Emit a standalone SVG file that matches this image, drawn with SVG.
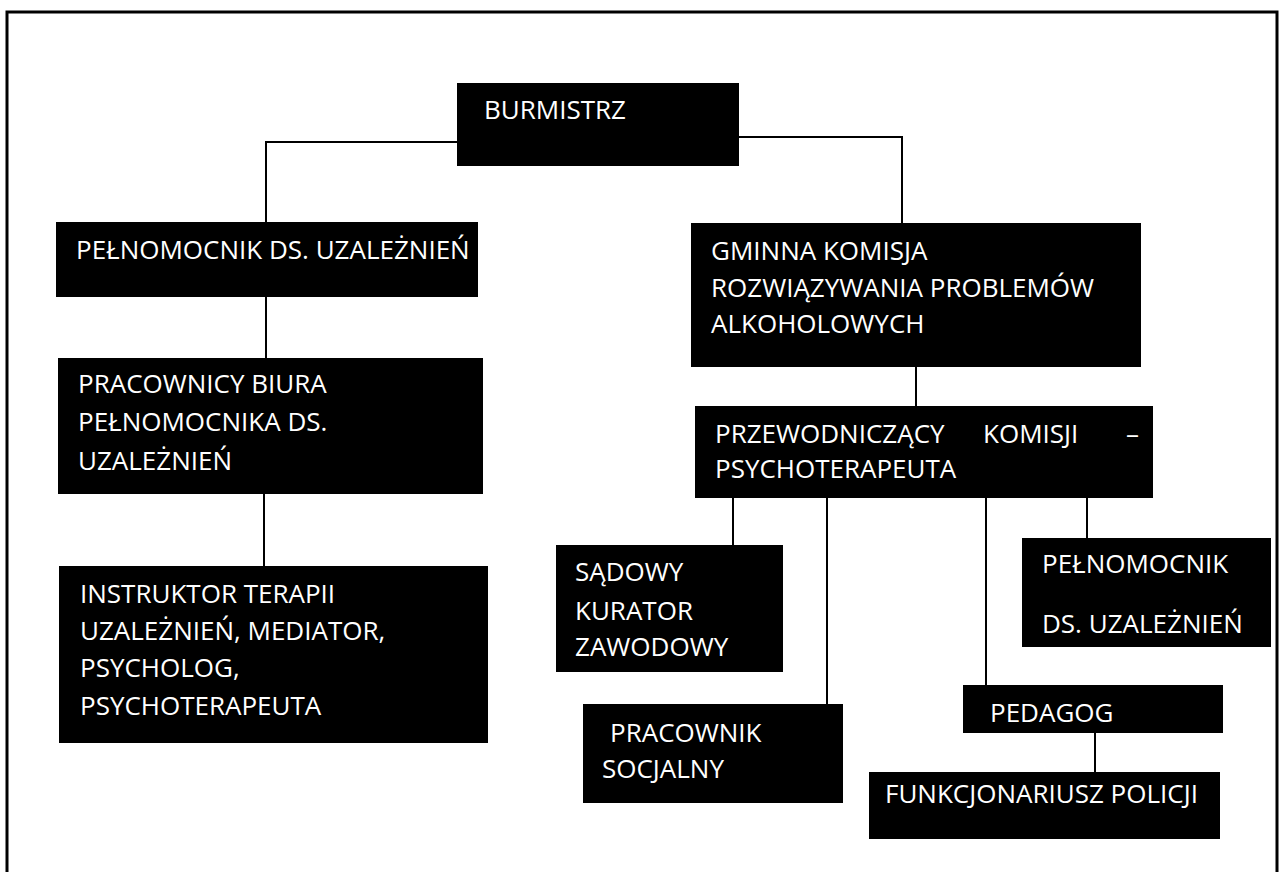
<svg xmlns="http://www.w3.org/2000/svg" width="1280" height="872" viewBox="0 0 1280 872">
<style>
.box{fill:#000}
.t{fill:#fff;font-family:"Open Sans","Liberation Sans",sans-serif;font-size:26px}
.c{stroke:#000;stroke-width:2;fill:none}
.frame{stroke:#000;stroke-width:3;fill:none}
</style>
<rect width="1280" height="872" fill="#fff"/>
<path class="frame" d="M7,880 L7,12 L1277,12 L1277,880"/>
<g id="connectors">
<path class="c" d="M457,142 H266 V222"/>
<path class="c" d="M739,137 H902 V224"/>
<path class="c" d="M266,297 V358"/>
<path class="c" d="M264,494 V566"/>
<path class="c" d="M916,367 V406"/>
<path class="c" d="M733,498 V545"/>
<path class="c" d="M827,498 V704"/>
<path class="c" d="M986,498 V685"/>
<path class="c" d="M1087,498 V538"/>
<path class="c" d="M1095,733 V772" stroke-width="3"/>
</g>
<g id="burmistrz">
<rect class="box" x="457" y="83" width="282" height="83"/>
<text class="t" x="484" y="119">BURMISTRZ</text>
</g>
<g id="pelnomocnik">
<rect class="box" x="56" y="222" width="422" height="75"/>
<text class="t" x="76" y="259">PEŁNOMOCNIK DS. UZALEŻNIEŃ</text>
</g>
<g id="pracownicy-biura">
<rect class="box" x="58" y="358" width="425" height="136"/>
<text class="t" x="78" y="393">PRACOWNICY BIURA</text>
<text class="t" x="78" y="431">PEŁNOMOCNIKA DS.</text>
<text class="t" x="78" y="470">UZALEŻNIEŃ</text>
</g>
<g id="instruktor">
<rect class="box" x="59" y="566" width="429" height="177"/>
<text class="t" x="80" y="603">INSTRUKTOR TERAPII</text>
<text class="t" x="80" y="640">UZALEŻNIEŃ, MEDIATOR,</text>
<text class="t" x="80" y="677">PSYCHOLOG,</text>
<text class="t" x="80" y="715">PSYCHOTERAPEUTA</text>
</g>
<g id="gminna-komisja">
<rect class="box" x="691" y="223" width="450" height="144"/>
<text class="t" x="711" y="260">GMINNA KOMISJA</text>
<text class="t" x="711" y="297">ROZWIĄZYWANIA PROBLEMÓW</text>
<text class="t" x="711" y="333">ALKOHOLOWYCH</text>
</g>
<g id="przewodniczacy">
<rect class="box" x="695" y="406" width="458" height="92"/>
<text class="t" x="715" y="443">PRZEWODNICZĄCY</text>
<text class="t" x="983" y="443">KOMISJI</text>
<text class="t" x="1126" y="443">–</text>
<text class="t" x="715" y="478">PSYCHOTERAPEUTA</text>
</g>
<g id="sadowy-kurator">
<rect class="box" x="556" y="545" width="227" height="127"/>
<text class="t" x="575" y="581">SĄDOWY</text>
<text class="t" x="575" y="620">KURATOR</text>
<text class="t" x="575" y="656">ZAWODOWY</text>
</g>
<g id="pracownik-socjalny">
<rect class="box" x="583" y="704" width="260" height="99"/>
<text class="t" x="610" y="742">PRACOWNIK</text>
<text class="t" x="602" y="778">SOCJALNY</text>
</g>
<g id="pelnomocnik-2">
<rect class="box" x="1022" y="538" width="249" height="109"/>
<text class="t" x="1042" y="573">PEŁNOMOCNIK</text>
<text class="t" x="1042" y="633">DS. UZALEŻNIEŃ</text>
</g>
<g id="pedagog">
<rect class="box" x="963" y="685" width="260" height="48"/>
<text class="t" x="990" y="722">PEDAGOG</text>
</g>
<g id="funkcjonariusz">
<rect class="box" x="869" y="772" width="351" height="67"/>
<text class="t" x="885" y="803">FUNKCJONARIUSZ POLICJI</text>
</g>
</svg>
